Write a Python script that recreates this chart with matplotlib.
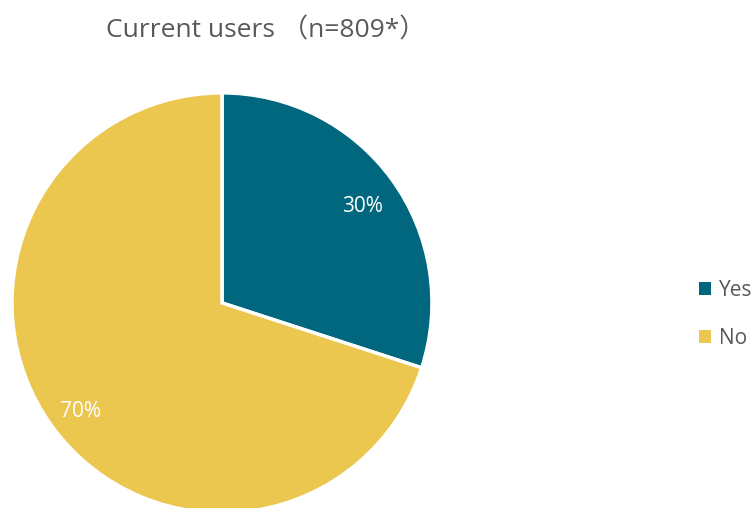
import matplotlib.pyplot as plt
from matplotlib.patches import Patch

labels = ['Yes', 'No']
shares = [30, 70]
colors = ['#00677f', '#ebc74f']

plt.rcParams['font.family'] = ['Open Sans', 'Noto Sans CJK SC', 'DejaVu Sans']

fig = plt.figure(figsize=(7.54, 5.08), dpi=100)
ax = fig.add_axes([0.0159, -0.0098, 0.557, 0.827])
wedges, _, autotexts = ax.pie(shares, colors=colors, startangle=90, counterclock=False,
                              autopct='%d%%', pctdistance=0.83,
                              wedgeprops={'edgecolor': 'white', 'linewidth': 2.5},
                              textprops={'color': 'white', 'fontsize': 15})
# nudge the percentage labels a little lower
for t in autotexts:
    x, y = t.get_position()
    t.set_position((x, y - 0.03))
ax.set_xlim(-1, 1)
ax.set_ylim(-1, 1)
ax.set_aspect('auto')

fig.text(0.353, 0.94, 'Current users \uff08n=809*\uff09', ha='center', va='center',
         fontsize=19, color='#595959')

handles = [Patch(facecolor=c, edgecolor='none') for c in colors]
fig.legend(handles, labels, loc='center left', bbox_to_anchor=(0.922, 0.381), frameon=False,
           fontsize=15, handlelength=0.55, handleheight=0.55, handletextpad=0.4,
           labelspacing=1.3, labelcolor='#595959', borderpad=0.2, borderaxespad=0)

fig.savefig('out.png', dpi=100)
